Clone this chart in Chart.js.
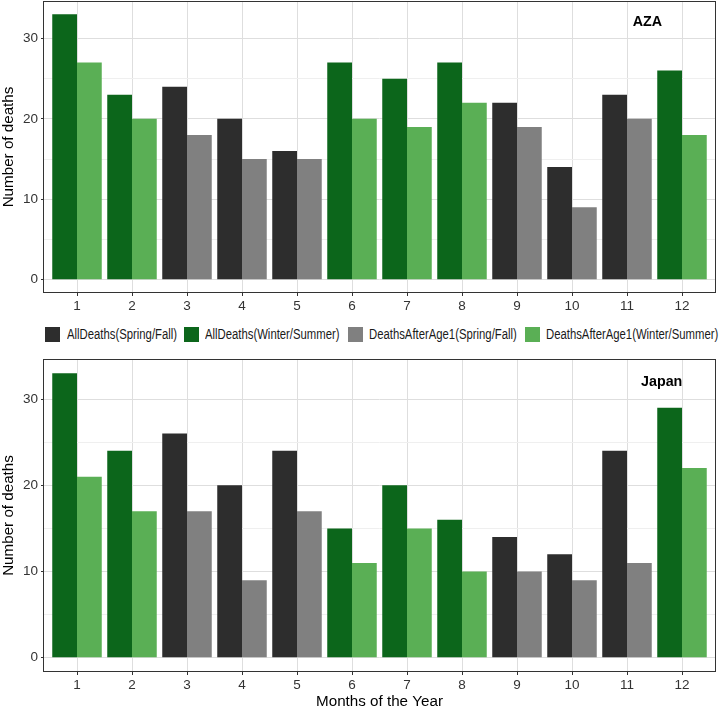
<!DOCTYPE html>
<html>
<head>
<meta charset="utf-8">
<script src="https://cdn.jsdelivr.net/npm/chart.js@4/dist/chart.umd.min.js"></script>
<style>
  html, body { margin: 0; padding: 0; background: #fff; }
  body { width: 720px; height: 711px; position: relative; overflow: hidden; font-family: 'Liberation Sans', Arial, sans-serif; }
  .panel { position: absolute; left: 0; width: 720px; }
  #top { top: 0; height: 318px; }
  #bot { top: 345px; height: 366px; }
  .leg { position: absolute; top: 327px; height: 15px; display: flex; align-items: center; white-space: nowrap; }
  .leg .box { width: 15px; height: 15px; flex: none; }
  .leg .txt { margin-left: 6.5px; font-size: 13.8px; color: #1a1a1a; transform: scaleX(0.82); transform-origin: left center; display: inline-block; }
</style>
</head>
<body>
<div class="panel" id="top"><canvas id="c1"></canvas></div>
<div class="panel" id="bot"><canvas id="c2"></canvas></div>
<div id="legend"></div>
<script>
// ---- data ----
const months = [1, 2, 3, 4, 5, 6, 7, 8, 9, 10, 11, 12];
const seasonGroup = ['WS','WS','SF','SF','SF','WS','WS','WS','SF','SF','SF','WS'];
const azaAllDeaths = [33, 23, 24, 20, 16, 27, 25, 27, 22, 14, 23, 26];
const azaAfterAge1 = [27, 20, 18, 15, 15, 20, 19, 22, 19, 9, 20, 18];
const japanAllDeaths = [33, 24, 26, 20, 24, 15, 20, 16, 14, 12, 24, 29];
const japanAfterAge1 = [21, 17, 17, 9, 17, 11, 15, 10, 10, 9, 11, 22];
const yTicks = [0, 5, 10, 15, 20, 25, 30];
const legendLabels = ['AllDeaths(Spring/Fall)', 'AllDeaths(Winter/Summer)', 'DeathsAfterAge1(Spring/Fall)', 'DeathsAfterAge1(Winter/Summer)'];

// ---- styles ----
const COL = {
  allSF: '#2d2d2d', allWS: '#0c661b', aftSF: '#808080', aftWS: '#5aaf55'
};
const legendColors = [COL.allSF, COL.allWS, COL.aftSF, COL.aftWS];
const legendX = [45, 183.7, 347.6, 524.8];

Chart.defaults.font.family = "'Liberation Sans', Arial, sans-serif";
Chart.defaults.animation = false;

const borderPlugin = {
  id: 'panelBorder',
  afterDraw(chart) {
    const a = chart.chartArea, ctx = chart.ctx;
    ctx.save();
    ctx.strokeStyle = '#333333';
    ctx.lineWidth = 1;
    ctx.strokeRect(Math.round(a.left) - 0.5, Math.round(a.top) + 0.5, Math.round(a.right - a.left) + 1, Math.round(a.bottom - a.top) - 1);
    ctx.restore();
  }
};
const labelPlugin = {
  id: 'panelLabel',
  afterDatasetsDraw(chart, args, opts) {
    const ctx = chart.ctx;
    const x = chart.scales.x.getPixelForValue(opts.x);
    const y = chart.scales.y.getPixelForValue(opts.y);
    ctx.save();
    ctx.font = 'bold 14.3px "Liberation Sans", Arial, sans-serif';
    ctx.fillStyle = '#000';
    ctx.textAlign = 'center';
    ctx.textBaseline = 'middle';
    ctx.fillText(opts.text, x, y);
    ctx.restore();
  }
};

function makeChart(id, allVals, aftVals, label, labelX, xTitle, xAxisHeight, padTop) {
  const allColors = seasonGroup.map(s => s === 'SF' ? COL.allSF : COL.allWS);
  const aftColors = seasonGroup.map(s => s === 'SF' ? COL.aftSF : COL.aftWS);
  return new Chart(document.getElementById(id), {
    type: 'bar',
    data: {
      datasets: [
        { label: 'AllDeaths', data: months.map((m, i) => ({ x: m, y: allVals[i] })), backgroundColor: allColors, borderWidth: 0 },
        { label: 'DeathsAfterAge1', data: months.map((m, i) => ({ x: m, y: aftVals[i] })), backgroundColor: aftColors, borderWidth: 0 }
      ]
    },
    options: {
      responsive: true,
      maintainAspectRatio: false,
      layout: { padding: { top: padTop, right: 5, left: 0, bottom: 0 } },
      datasets: { bar: { categoryPercentage: 0.9, barPercentage: 1.0 } },
      plugins: {
        legend: { display: false },
        tooltip: { enabled: false },
        panelLabel: { text: label, x: labelX, y: 32 }
      },
      scales: {
        x: {
          type: 'linear',
          offset: false,
          min: 0.4, max: 12.6,
          afterBuildTicks: s => { s.ticks = months.map(v => ({ value: v })); },
          afterFit: s => { s.height = xAxisHeight; s.paddingLeft = 0; s.paddingRight = 0; },
          grid: { color: '#dedede', lineWidth: 1, tickLength: 3, tickColor: '#333', offset: false },
          border: { display: false },
          ticks: { color: '#333', font: { size: 13.5 }, padding: 2, maxRotation: 0, autoSkip: false },
          title: xTitle ? { display: true, text: xTitle, color: '#000', font: { size: 15.2 }, padding: { top: 0, bottom: 0 } } : { display: false }
        },
        y: {
          min: -1.65, max: 34.65,
          afterBuildTicks: s => { s.ticks = yTicks.map(v => ({ value: v })); },
          afterFit: s => { s.width = 44; s.paddingTop = 0; s.paddingBottom = 0; },
          grid: {
            color: c => (c.tick && c.tick.value % 10 === 0) ? '#dedede' : '#efefef',
            lineWidth: 1, tickLength: 3,
            tickColor: c => (c.tick && c.tick.value % 10 === 0) ? '#333' : 'rgba(0,0,0,0)'
          },
          border: { display: false },
          ticks: { color: '#333', font: { size: 13.5 }, padding: 3, callback: v => (v % 10 === 0 ? String(v) : '') },
          title: { display: true, text: 'Number of deaths', color: '#000', font: { size: 15.2 }, padding: { top: 0, bottom: 0 } }
        }
      }
    },
    plugins: [borderPlugin, labelPlugin]
  });
}

makeChart('c1', azaAllDeaths, azaAfterAge1, 'AZA', 11.37, null, 25, 1);
makeChart('c2', japanAllDeaths, japanAfterAge1, 'Japan', 11.63, 'Months of the Year', 39, 14);

// ---- legend ----
const leg = document.getElementById('legend');
legendLabels.forEach((t, i) => {
  const d = document.createElement('div');
  d.className = 'leg';
  d.style.left = legendX[i] + 'px';
  d.innerHTML = '<span class="box" style="background:' + legendColors[i] + '"></span><span class="txt">' + t + '</span>';
  leg.appendChild(d);
});
</script>
</body>
</html>
